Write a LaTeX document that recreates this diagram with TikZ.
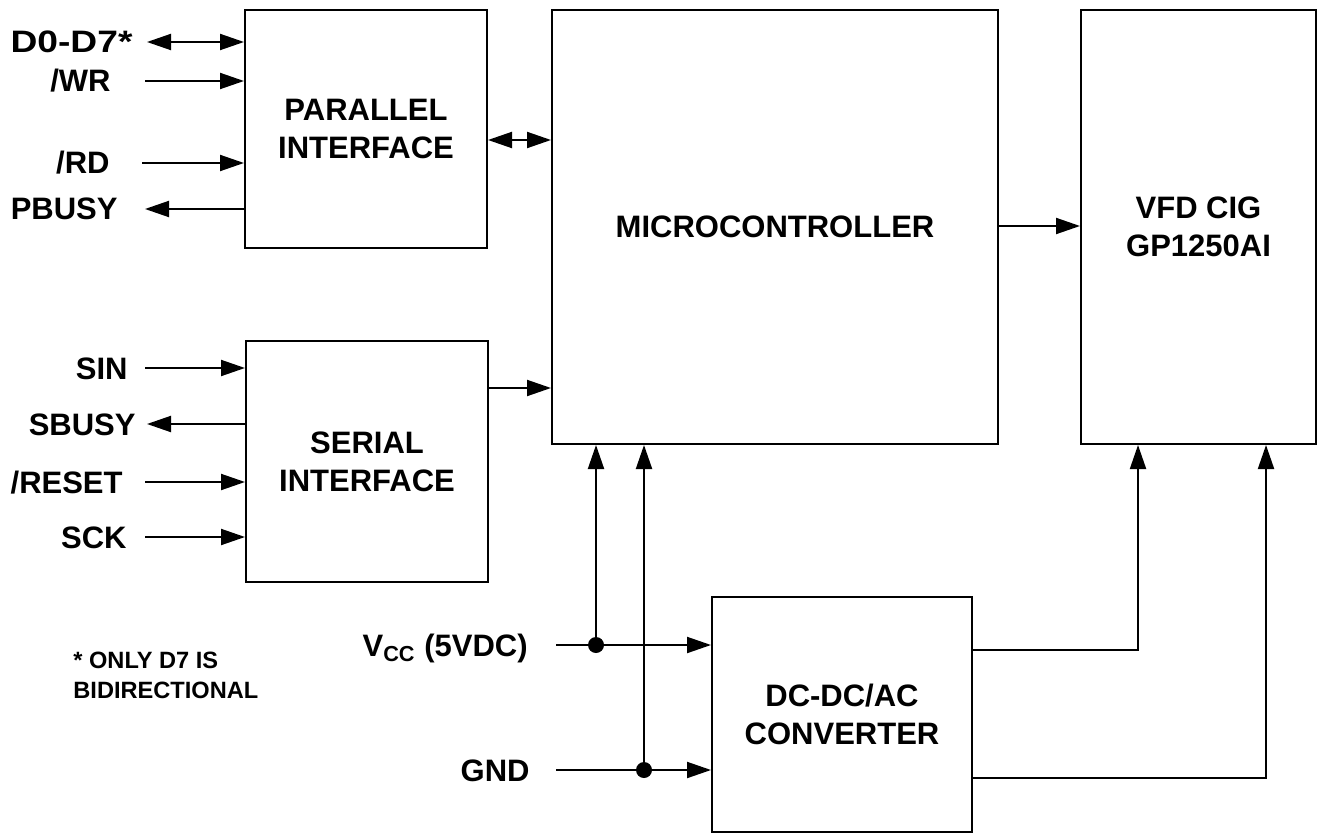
\documentclass[tikz,border=0pt]{standalone}
\usepackage{fontspec}
\setmainfont{Liberation Sans}
\usetikzlibrary{arrows.meta}
\begin{document}
\begin{tikzpicture}[x=0.5pt,y=-0.5pt,
  box/.style={draw, line width=1pt, align=center, font=\bfseries\fontsize{15.5}{19}\selectfont, inner sep=0pt},
  lab/.style={font=\bfseries\fontsize{15.5}{19}\selectfont, inner sep=0pt},
  wire/.style={line width=1pt},
  arr/.style={wire, -{Triangle[length=12pt,width=8pt]}},
  darr/.style={wire, {Triangle[length=12pt,width=8pt]}-{Triangle[length=12pt,width=8pt]}},
  dot/.style={circle, fill, inner sep=0pt, minimum size=8pt}]
\useasboundingbox (0,0) rectangle (1320,834);

% blocks
\node[box, minimum width=121pt, minimum height=119pt] (par) at (366,129) {PARALLEL\\INTERFACE};
\node[box, minimum width=223pt, minimum height=217pt] (mc) at (775,227) {MICROCONTROLLER};
\node[box, minimum width=117.5pt, minimum height=217pt] (vfd) at (1198.5,227) {VFD CIG\\GP1250AI};
\node[box, minimum width=121pt, minimum height=120.5pt] (ser) at (367,461.5) {SERIAL\\INTERFACE};
\node[box, minimum width=130pt, minimum height=117.5pt] (dc) at (842,714.5) {DC-DC/AC\\CONVERTER};

% parallel signals
\node[lab, anchor=base east, xscale=1.2] (ld) at (133,53) {D0-D7*};
\node[lab, anchor=base east] (lw) at (111,92) {/WR};
\node[lab, anchor=base east] (lr) at (110,174) {/RD};
\node[lab, anchor=base east] (lp) at (118,220) {PBUSY};
\coordinate (pd) at (147,42);
\coordinate (pw) at (145,81);
\coordinate (pr) at (142,163);
\coordinate (pb) at (145,209);
\draw[darr] (pd) -- (pd -| par.west);
\draw[arr] (pw) -- (pw -| par.west);
\draw[arr] (pr) -- (pr -| par.west);
\draw[arr] (pb -| par.west) -- (pb);

% serial signals
\node[lab, anchor=base east] (ls) at (128,379) {SIN};
\node[lab, anchor=base east] (lsb) at (136,435) {SBUSY};
\node[lab, anchor=base east] (lrs) at (123,493) {/RESET};
\node[lab, anchor=base east] (lsk) at (127,548) {SCK};
\coordinate (si) at (145,368);
\coordinate (sb) at (147,424);
\coordinate (sr) at (145,482);
\coordinate (sk) at (145,537);
\draw[arr] (si) -- (si -| ser.west);
\draw[arr] (sb -| ser.west) -- (sb);
\draw[arr] (sr) -- (sr -| ser.west);
\draw[arr] (sk) -- (sk -| ser.west);

% block links
\coordinate (pm) at (0,140);
\coordinate (sm) at (0,388);
\coordinate (mv) at (0,226);
\draw[darr] (pm -| par.east) -- (pm -| mc.west);
\draw[arr] (sm -| ser.east) -- (sm -| mc.west);
\draw[arr] (mv -| mc.east) -- (mv -| vfd.west);

% power
\node[lab, anchor=base east] (lv) at (528,656) {V\textsubscript{CC} (5VDC)};
\node[lab, anchor=base east] (lg) at (530,781) {GND};
\coordinate (vcc) at (556,645);
\coordinate (gnd) at (556,770);
\node[dot] (j1) at (596,645) {};
\node[dot] (j2) at (644,770) {};
\draw[arr] (vcc) -- (vcc -| dc.west);
\draw[arr] (gnd) -- (gnd -| dc.west);
\draw[arr] (j1.center) -- (j1 |- mc.south);
\draw[arr] (j2.center) -- (j2 |- mc.south);

% converter outputs
\coordinate (o1) at (1138,650);
\coordinate (o2) at (1266,778);
\draw[arr] (o1 -| dc.east) -- (o1) -- (o1 |- vfd.south);
\draw[arr] (o2 -| dc.east) -- (o2) -- (o2 |- vfd.south);

% note
\node[font=\bfseries\fontsize{11.8}{15}\selectfont, align=left, anchor=north west, inner sep=0pt] (note) at (73,652) {* ONLY D7 IS\\BIDIRECTIONAL};
\end{tikzpicture}
\end{document}
